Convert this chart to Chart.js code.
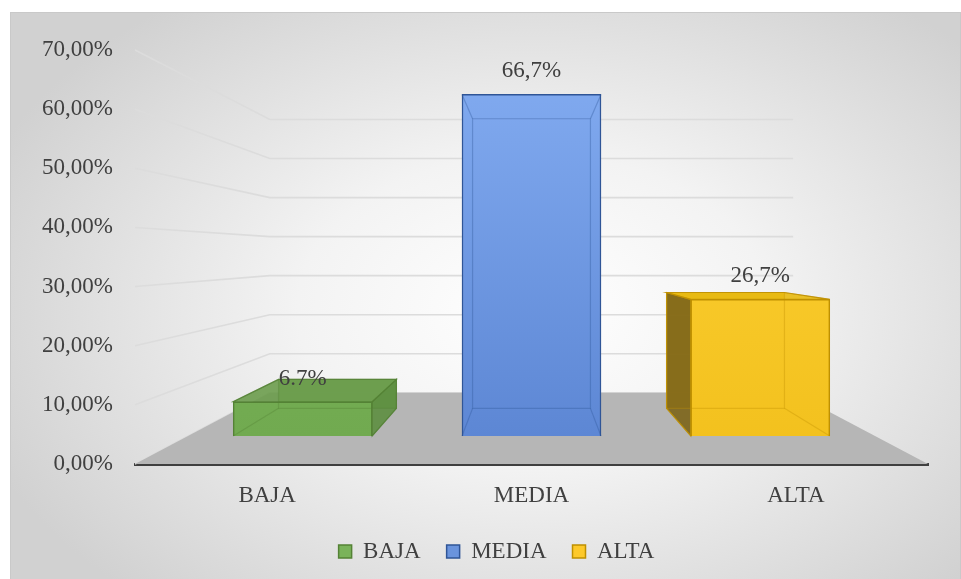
<!DOCTYPE html>
<html>
<head>
<meta charset="utf-8">
<script src="https://cdn.jsdelivr.net/npm/chart.js@4.4.1/dist/chart.umd.min.js"></script>
<style>
  html, body { margin: 0; padding: 0; background: #fff; }
  #box {
    position: absolute; left: 10px; top: 12px; width: 949px; height: 570px;
    border: 1px solid #c9c9c9;
    background: radial-gradient(ellipse 62% 68% at 55% 52%, #ffffff 0%, #f3f3f3 40%, #d1d1d1 100%);
  }
  canvas { display: block; }
</style>
</head>
<body>
<div id="box"><canvas id="chart" width="949" height="566"></canvas></div>
<script>
const categories = ["BAJA", "MEDIA", "ALTA"];
const values = [0.0667, 0.6667, 0.2667];
const valueLabels = ["6.7%", "66,7%", "26,7%"];
const yTicks = [0, 0.1, 0.2, 0.3, 0.4, 0.5, 0.6, 0.7];

// styles per bar
const frontTop = ["#7fb85e", "#84adf2", "#ffd43a"];
const frontBottom = ["#70a94f", "#5a84d2", "#f2c01c"];
const sideColors = ["#5d8e40", "#4d75bf", "#7c6418"];
const topColors = ["#6b9c4c", "#6a95de", "#e8b90f"];
const edgeColors = ["#548235", "#2f5597", "#bf9000"];
const legendFill = ["#7ab35a", "#6a94dd", "#fdc92a"];

// perspective of the Excel 3D view
const VP_RISE = 0.506;   // vanishing point height, fraction of plot height
const WALL_BACK = 0.66;  // scale of back wall
const BAR_DEPTH = 0.848; // back face / front face of bars

const fontFam = "'Liberation Serif', 'Times New Roman', serif";

function vanish(a) {
  return { x: (a.left + a.right) / 2, y: a.bottom - VP_RISE * (a.bottom - a.top) };
}
function proj(vp, p, s) {
  return { x: vp.x + (p.x - vp.x) * s, y: vp.y + (p.y - vp.y) * s };
}
function poly(ctx, pts) {
  ctx.beginPath();
  ctx.moveTo(pts[0].x, pts[0].y);
  for (let i = 1; i < pts.length; i++) ctx.lineTo(pts[i].x, pts[i].y);
  ctx.closePath();
}
function boxOf(chart, el) {
  const vp = vanish(chart.chartArea);
  const L = el.x - el.width / 2, R = el.x + el.width / 2;
  const f = {
    lt: { x: L, y: el.y }, rt: { x: R, y: el.y },
    lb: { x: L, y: el.base }, rb: { x: R, y: el.base }
  };
  const b = {};
  Object.keys(f).forEach(k => b[k] = proj(vp, f[k], BAR_DEPTH));
  return { vp, f, b };
}

const scene3d = {
  id: "scene3d",
  beforeDatasetsDraw(chart) {
    const { ctx, chartArea: a, scales } = chart;
    const y = scales.y;
    const vp = vanish(a);
    ctx.save();
    // walls
    ctx.strokeStyle = "#dcdcdc";
    ctx.lineWidth = 1.6;
    yTicks.forEach(v => {
      const py = y.getPixelForValue(v);
      const p = proj(vp, { x: a.left, y: py }, WALL_BACK);
      const q = proj(vp, { x: a.right, y: py }, WALL_BACK);
      ctx.beginPath();
      ctx.moveTo(a.left, py);
      ctx.lineTo(p.x, p.y);
      ctx.lineTo(q.x, q.y);
      ctx.stroke();
    });
    // floor
    const fl = [
      { x: a.left, y: a.bottom }, { x: a.right, y: a.bottom },
      proj(vp, { x: a.right, y: a.bottom }, WALL_BACK),
      proj(vp, { x: a.left, y: a.bottom }, WALL_BACK)
    ];
    ctx.fillStyle = "#b6b6b6";
    poly(ctx, fl);
    ctx.fill();

    // hidden/side faces of bars
    chart.data.datasets.forEach((ds, i) => {
      const el = chart.getDatasetMeta(i).data[0];
      if (!el) return;
      const { vp, f, b } = boxOf(chart, el);
      ctx.lineWidth = 1.2;
      ctx.strokeStyle = edgeColors[i];
      // back face
      ctx.globalAlpha = 0.85;
      ctx.fillStyle = frontBottom[i];
      poly(ctx, [b.lt, b.rt, b.rb, b.lb]);
      ctx.fill();
      ctx.globalAlpha = 0.9;
      if (f.rt.x < vp.x) {
        ctx.fillStyle = sideColors[i];
        poly(ctx, [f.rt, b.rt, b.rb, f.rb]);
        ctx.fill(); ctx.stroke();
      }
      if (f.lt.x > vp.x) {
        ctx.fillStyle = sideColors[i];
        poly(ctx, [f.lt, b.lt, b.lb, f.lb]);
        ctx.fill(); ctx.stroke();
      }
      if (f.lt.y > vp.y) {
        ctx.fillStyle = topColors[i];
        poly(ctx, [f.lt, f.rt, b.rt, b.lt]);
        ctx.fill(); ctx.stroke();
      }
      ctx.globalAlpha = 1;
    });
    ctx.restore();
  },
  afterDatasetsDraw(chart) {
    const { ctx } = chart;
    ctx.save();
    chart.data.datasets.forEach((ds, i) => {
      const el = chart.getDatasetMeta(i).data[0];
      if (!el) return;
      const { f, b } = boxOf(chart, el);
      // faint edges seen through the front face
      ctx.globalAlpha = 0.35;
      ctx.strokeStyle = edgeColors[i];
      ctx.lineWidth = 1.2;
      poly(ctx, [b.lt, b.rt, b.rb, b.lb]);
      ctx.stroke();
      ["lt", "rt", "lb", "rb"].forEach(k => {
        ctx.beginPath();
        ctx.moveTo(f[k].x, f[k].y);
        ctx.lineTo(b[k].x, b[k].y);
        ctx.stroke();
      });
      ctx.globalAlpha = 1;
      // value label
      ctx.fillStyle = "#404040";
      ctx.font = "23px " + fontFam;
      ctx.textAlign = "center";
      ctx.textBaseline = "middle";
      ctx.fillText(valueLabels[i], el.x, el.y - 23);
    });
    ctx.restore();
  }
};

function frontFill(i) {
  return c => {
    const a = c.chart.chartArea;
    if (!a) return frontBottom[i];
    const g = c.chart.ctx.createLinearGradient(0, a.top, 0, a.bottom);
    g.addColorStop(0, frontTop[i]);
    g.addColorStop(1, frontBottom[i]);
    return g;
  };
}

const datasets = categories.map((cat, i) => ({
  label: cat,
  data: [{ x: i, y: values[i] }],
  xAxisID: "xb",
  yAxisID: "yb",
  backgroundColor: frontFill(i),
  borderColor: edgeColors[i],
  borderWidth: 1.5,
  barThickness: 139,
  grouped: false
}));

new Chart(document.getElementById("chart"), {
  type: "bar",
  data: { labels: categories, datasets },
  options: {
    responsive: false,
    animation: false,
    layout: { padding: { top: 37, right: -22, left: 0, bottom: 6 } },
    scales: {
      x: {
        type: "category",
        offset: true,
        grid: { display: false, drawTicks: false },
        border: { display: true, color: "#3f3f3f", width: 3 },
        ticks: { color: "#404040", font: { family: fontFam, size: 23 }, padding: 18 },
        afterFit: s => { s.height = 50; }
      },
      y: {
        type: "linear",
        min: 0, max: 0.7,
        grid: { display: false, drawTicks: false },
        border: { display: false },
        ticks: {
          stepSize: 0.1,
          color: "#404040",
          font: { family: fontFam, size: 23 },
          padding: 22,
          callback: v => (v * 100).toFixed(2).replace(".", ",") + "%"
        },
        afterFit: s => { s.width = 124; }
      },
      xb: { type: "linear", display: false, offset: false, min: -0.733, max: 2.733 },
      yb: {
        type: "linear", position: "right", min: -0.0548, max: 0.7534,
        grid: { display: false, drawTicks: false },
        border: { display: false },
        ticks: { display: false },
        afterFit: s => { s.width = 54; }
      }
    },
    plugins: {
      tooltip: { enabled: false },
      legend: {
        position: "bottom",
        labels: {
          boxWidth: 13, boxHeight: 13, padding: 26,
          color: "#404040",
          font: { family: fontFam, size: 23 },
          generateLabels: chart => chart.data.datasets.map((ds, i) => ({
            text: ds.label,
            fillStyle: legendFill[i],
            strokeStyle: edgeColors[i],
            lineWidth: 1.5,
            fontColor: "#404040",
            datasetIndex: i
          }))
        }
      }
    }
  },
  plugins: [scene3d]
});
</script>
</body>
</html>
